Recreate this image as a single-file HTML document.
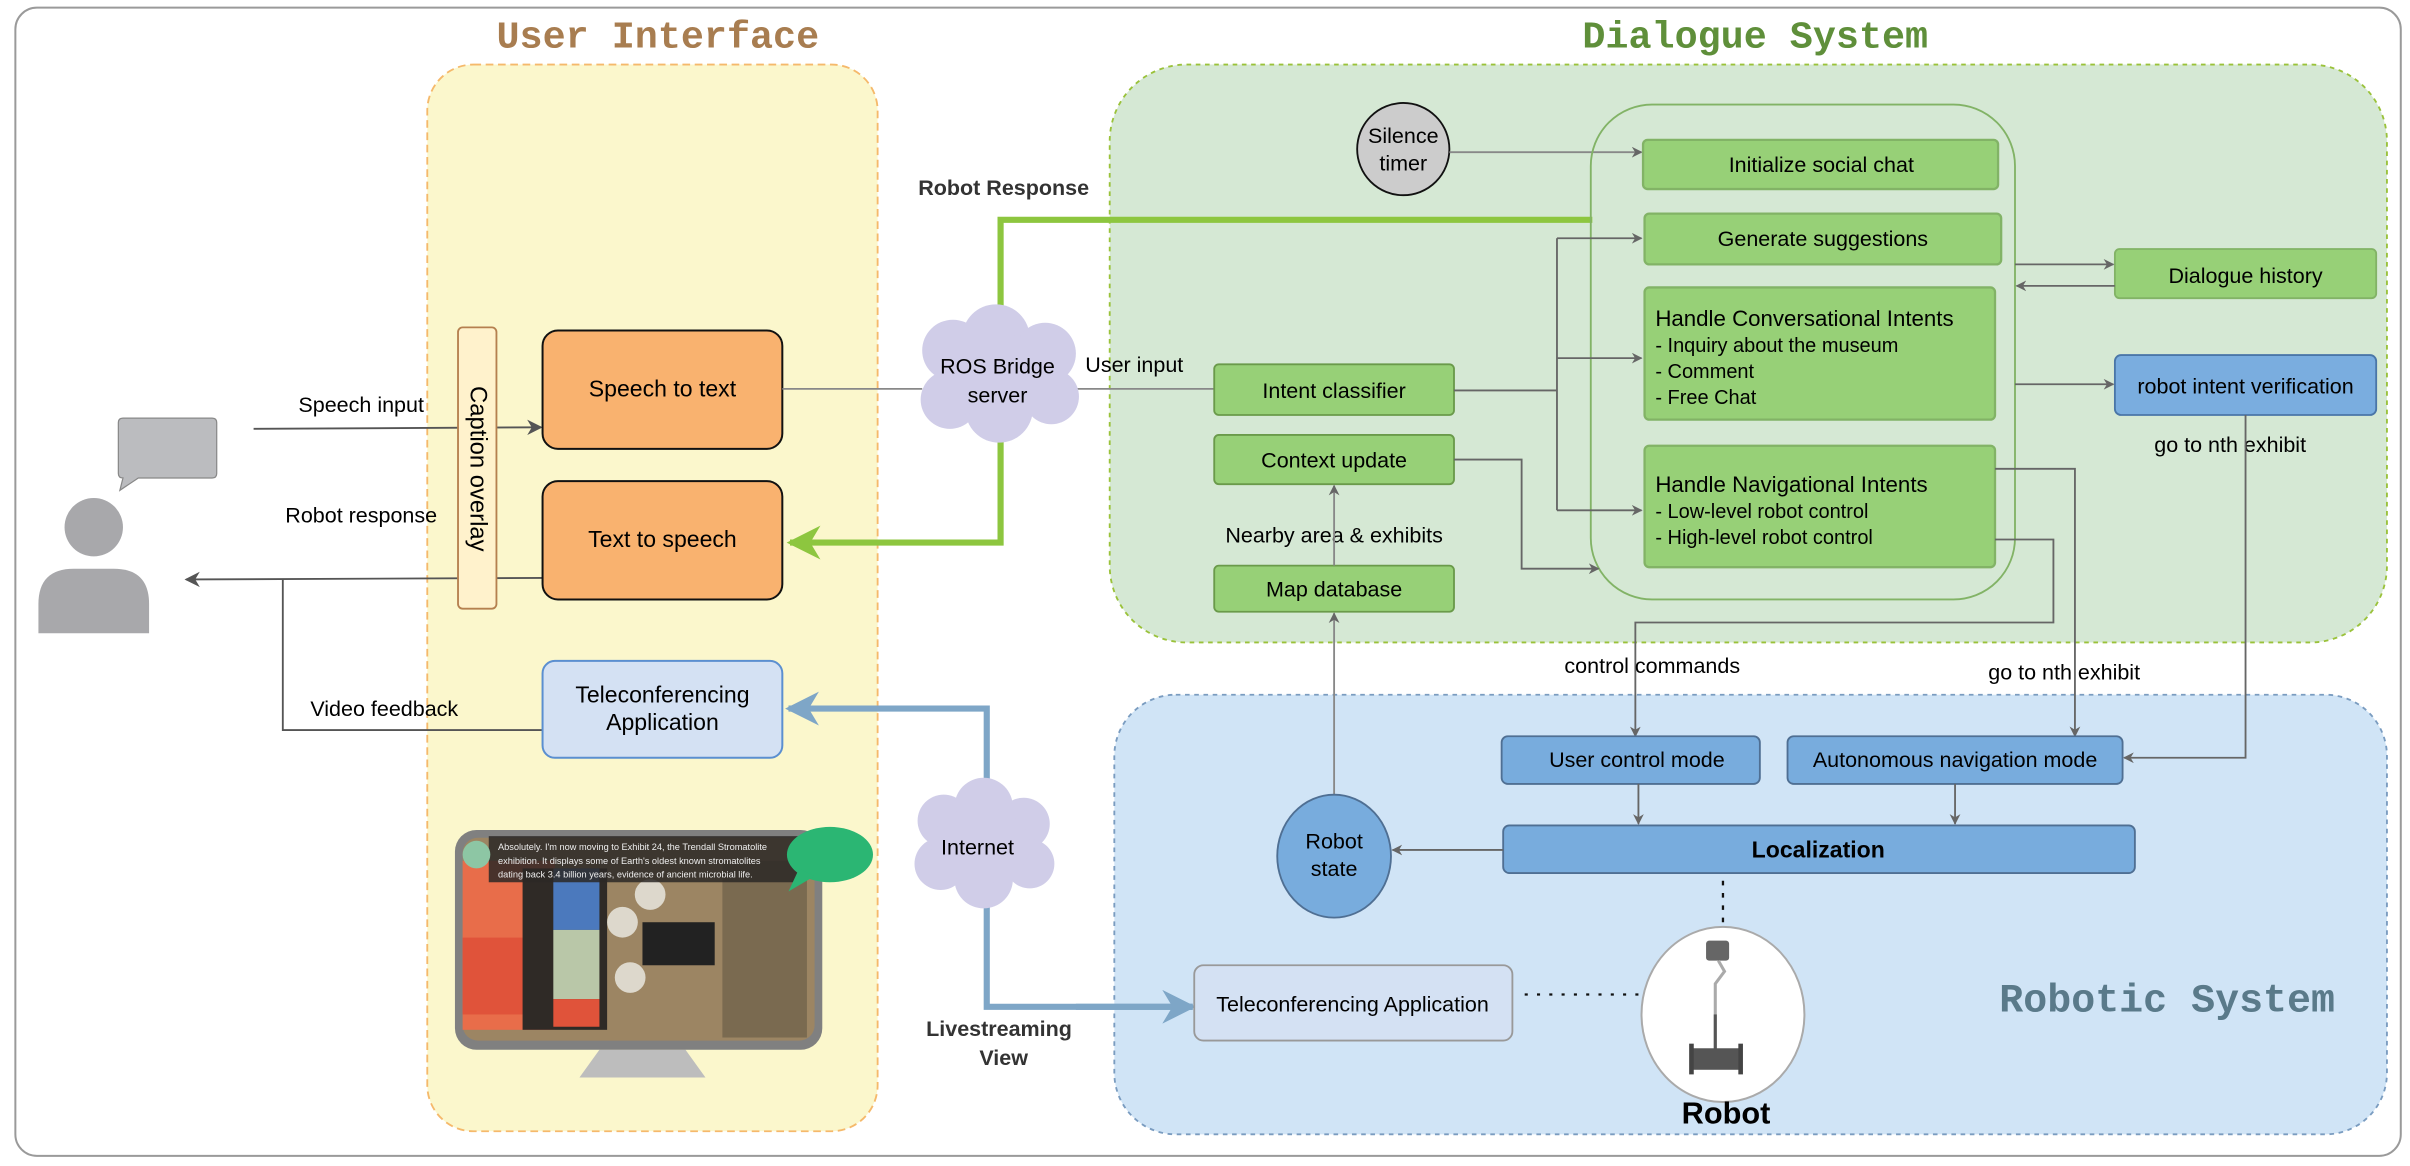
<!DOCTYPE html>
<html><head><meta charset="utf-8"><style>
html,body{margin:0;padding:0;background:#fff;}
svg{display:block;}
text{font-family:"Liberation Sans",Arial,sans-serif;}
.m{font-family:"Liberation Mono",monospace;font-weight:bold;}
</style></head><body>
<svg width="2410" height="1166" viewBox="0 0 1568 758.6" preserveAspectRatio="none" xmlns="http://www.w3.org/2000/svg">
<defs>
<marker id="ag" viewBox="0 0 10 10" refX="9" refY="5" markerWidth="7" markerHeight="7" orient="auto" markerUnits="userSpaceOnUse"><path d="M0,0 L10,5 L0,10 L3,5z" fill="#666"/></marker>
<marker id="ad" viewBox="0 0 10 10" refX="9" refY="5" markerWidth="10" markerHeight="10" orient="auto" markerUnits="userSpaceOnUse"><path d="M0,0 L10,5 L0,10 L3,5z" fill="#555"/></marker>
<marker id="agr" viewBox="0 0 10 10" refX="9" refY="5" markerWidth="22" markerHeight="22" orient="auto" markerUnits="userSpaceOnUse"><path d="M0,0 L10,5 L0,10 L3,5z" fill="#8dc63f"/></marker>
<marker id="abl" viewBox="0 0 10 10" refX="9" refY="5" markerWidth="22" markerHeight="22" orient="auto" markerUnits="userSpaceOnUse"><path d="M0,0 L10,5 L0,10 L3,5z" fill="#7ea6c7"/></marker>
</defs>
<rect x="0" y="0" width="1568" height="759" fill="#fff"/>
<rect x="10" y="5" width="1552" height="747" rx="14" fill="#fff" stroke="#9a9a9a" stroke-width="1.3"/>

<rect x="278" y="42" width="293" height="694" rx="30" fill="#fbf7cc" stroke="#f5b96b" stroke-width="1.2" stroke-dasharray="5,3"/>
<rect x="722" y="42" width="831" height="376" rx="50" fill="#d5e8d4" stroke="#9ac23a" stroke-width="1.2" stroke-dasharray="3,3"/>
<rect x="725" y="452" width="828" height="286" rx="40" fill="#d0e4f6" stroke="#7a9cc0" stroke-width="1.2" stroke-dasharray="3,3"/>
<text x="428" y="31" class="m" font-size="25" fill="#a87d50" text-anchor="middle">User Interface</text>
<text x="1142" y="31" class="m" font-size="25" fill="#5f8f3a" text-anchor="middle">Dialogue System</text>
<text x="1410" y="658" class="m" font-size="26" fill="#5a7a8a" text-anchor="middle">Robotic System</text>

<circle cx="61" cy="343" r="19" fill="#a8a8ab"/>
<path d="M25,412 L25,393 Q25,370 48,370 L74,370 Q97,370 97,393 L97,412z" fill="#a8a8ab"/>
<path d="M80,272 L138,272 Q141,272 141,275 L141,308 Q141,311 138,311 L90,311 L78,319 L80,311 Q77,311 77,308 L77,275 Q77,272 80,272z" fill="#bbbcbf" stroke="#888" stroke-width="0.8"/>

<line x1="165" y1="279" x2="352" y2="278" stroke="#555" stroke-width="1.2" marker-end="url(#ad)"/>
<text x="235" y="268" font-size="14" text-anchor="middle">Speech input</text>
<line x1="353" y1="376" x2="121" y2="377" stroke="#555" stroke-width="1.2" marker-end="url(#ad)"/>
<text x="235" y="340" font-size="14" text-anchor="middle">Robot response</text>
<polyline points="353,475 184,475 184,377" fill="none" stroke="#555" stroke-width="1.2"/>
<text x="250" y="466" font-size="14" text-anchor="middle">Video feedback</text>

<rect x="298" y="213" width="25" height="183" rx="3" fill="#fff2cc" stroke="#b5804f" stroke-width="1.2"/>
<text transform="translate(306,305) rotate(90)" font-size="15.5" text-anchor="middle">Caption overlay</text>

<rect x="353" y="215" width="156" height="77" rx="10" fill="#f9b26f" stroke="#111" stroke-width="1.3"/>
<text x="431" y="258" font-size="15" text-anchor="middle">Speech to text</text>
<rect x="353" y="313" width="156" height="77" rx="10" fill="#f9b26f" stroke="#111" stroke-width="1.3"/>
<text x="431" y="356" font-size="15" text-anchor="middle">Text to speech</text>
<rect x="353" y="430" width="156" height="63" rx="8" fill="#d4e1f3" stroke="#5b8fd0" stroke-width="1.3"/>
<text x="431" y="457" font-size="15" text-anchor="middle">Teleconferencing</text>
<text x="431" y="475" font-size="15" text-anchor="middle">Application</text>

<path d="M390,683 L446,683 L459,701 L377,701z" fill="#bdbdbd"/>
<rect x="296" y="540" width="239" height="143" rx="14" fill="#808080"/>
<rect x="301" y="545" width="229" height="132" rx="10" fill="#9c8563"/>
<rect x="301" y="560" width="60" height="110" fill="#e86d4a"/>
<rect x="301" y="610" width="60" height="50" fill="#e0533a"/>
<rect x="340" y="565" width="55" height="105" fill="#2f2a26"/>
<rect x="360" y="565" width="30" height="40" fill="#4b79bd"/>
<rect x="360" y="605" width="30" height="45" fill="#b9c7a8"/>
<rect x="360" y="650" width="30" height="18" fill="#e0533a"/>
<rect x="418" y="600" width="47" height="28" fill="#222"/>
<rect x="470" y="560" width="55" height="115" fill="#7a6a50"/>
<circle cx="405" cy="600" r="10" fill="#ddd8cc"/><circle cx="423" cy="582" r="10" fill="#ddd8cc"/><circle cx="410" cy="636" r="10" fill="#ddd8cc"/>
<rect x="318" y="544" width="205" height="30" fill="#2b2826" opacity="0.85"/>
<circle cx="310" cy="556" r="9" fill="#8dc6a4"/>
<text x="324" y="553" font-size="6" fill="#eee">Absolutely. I'm now moving to Exhibit 24, the Trendall Stromatolite</text>
<text x="324" y="562" font-size="6" fill="#eee">exhibition. It displays some of Earth's oldest known stromatolites</text>
<text x="324" y="571" font-size="6" fill="#eee">dating back 3.4 billion years, evidence of ancient microbial life.</text>
<ellipse cx="540" cy="556" rx="28" ry="18" fill="#2bb673"/>
<path d="M520,565 L513,580 L530,570z" fill="#2bb673"/>

<polyline points="1036,143 651,143 651,353 514,353" fill="none" stroke="#8dc63f" stroke-width="4" marker-end="url(#agr)"/>
<text x="653" y="127" font-size="14" font-weight="bold" fill="#333" text-anchor="middle">Robot Response</text>
<polyline points="776,655 642,655 642,461 513,461" fill="none" stroke="#7ea6c7" stroke-width="4" marker-end="url(#abl)" />
<line x1="700" y1="655" x2="776" y2="655" stroke="#7ea6c7" stroke-width="4" marker-end="url(#abl)"/>
<text x="650" y="674" font-size="14" font-weight="bold" fill="#333" text-anchor="middle">Livestreaming</text>
<text x="653" y="693" font-size="14" font-weight="bold" fill="#333" text-anchor="middle">View</text>

<line x1="509" y1="253" x2="600" y2="253" stroke="#888" stroke-width="1.2"/>
<line x1="700" y1="253" x2="790" y2="253" stroke="#888" stroke-width="1.2"/>
<text x="738" y="242" font-size="14" text-anchor="middle">User input</text>

<g fill="#d0cde8">
<circle cx="620" cy="228" r="20"/><circle cx="648" cy="220" r="22"/><circle cx="680" cy="230" r="20"/>
<circle cx="618" cy="260" r="19"/><circle cx="650" cy="266" r="22"/><circle cx="684" cy="258" r="18"/><ellipse cx="650" cy="245" rx="38" ry="28"/>
</g>
<text x="649" y="243" font-size="14" text-anchor="middle">ROS Bridge</text>
<text x="649" y="262" font-size="14" text-anchor="middle">server</text>
<g fill="#d0cde8">
<circle cx="614" cy="534" r="17"/><circle cx="640" cy="525" r="19"/><circle cx="666" cy="536" r="17"/>
<circle cx="612" cy="562" r="17"/><circle cx="640" cy="572" r="19"/><circle cx="670" cy="562" r="16"/><ellipse cx="638" cy="550" rx="32" ry="25"/>
</g>
<text x="636" y="556" font-size="14" text-anchor="middle">Internet</text>

<g fill="#97d077" stroke="#6a9a4a" stroke-width="1.2">
<rect x="790" y="237" width="156" height="33" rx="3"/>
<rect x="790" y="283" width="156" height="32" rx="3"/>
<rect x="790" y="368" width="156" height="30" rx="3"/>
</g>
<text x="868" y="259" font-size="14" text-anchor="middle">Intent classifier</text>
<text x="868" y="304" font-size="14" text-anchor="middle">Context update</text>
<text x="868" y="388" font-size="14" text-anchor="middle">Map database</text>
<text x="868" y="353" font-size="14" text-anchor="middle">Nearby area &amp; exhibits</text>
<line x1="868" y1="368" x2="868" y2="316" stroke="#888" stroke-width="1.2" marker-end="url(#ag)"/>
<line x1="868" y1="520" x2="868" y2="399" stroke="#888" stroke-width="1.2" marker-end="url(#ag)"/>

<circle cx="913" cy="97" r="30" fill="#cccccc" stroke="#111" stroke-width="1.2"/>
<text x="913" y="93" font-size="14" text-anchor="middle">Silence</text>
<text x="913" y="111" font-size="14" text-anchor="middle">timer</text>
<line x1="943" y1="99" x2="1068" y2="99" stroke="#888" stroke-width="1.2" marker-end="url(#ag)"/>

<rect x="1035" y="68" width="276" height="322" rx="40" fill="none" stroke="#82b366" stroke-width="1.2"/>
<g fill="#97d077" stroke="#82b366" stroke-width="1.5">
<rect x="1069" y="91" width="231" height="32" rx="3"/>
<rect x="1070" y="139" width="232" height="33" rx="3"/>
<rect x="1070" y="187" width="228" height="86" rx="3"/>
<rect x="1070" y="290" width="228" height="79" rx="3"/>
</g>
<text x="1185" y="112" font-size="14" text-anchor="middle">Initialize social chat</text>
<text x="1186" y="160" font-size="14" text-anchor="middle">Generate suggestions</text>
<text x="1077" y="212" font-size="14.5">Handle Conversational Intents</text>
<text x="1077" y="229" font-size="13">- Inquiry about the museum</text>
<text x="1077" y="246" font-size="13">- Comment</text>
<text x="1077" y="263" font-size="13">- Free Chat</text>
<text x="1077" y="320" font-size="14.5">Handle Navigational Intents</text>
<text x="1077" y="337" font-size="13">- Low-level robot control</text>
<text x="1077" y="354" font-size="13">- High-level robot control</text>

<polyline points="946,254 1013,254" fill="none" stroke="#666" stroke-width="1.2"/>
<line x1="1013" y1="155" x2="1013" y2="332" stroke="#666" stroke-width="1.2"/>
<line x1="1013" y1="155" x2="1068" y2="155" stroke="#666" stroke-width="1.2" marker-end="url(#ag)"/>
<line x1="1013" y1="233" x2="1068" y2="233" stroke="#666" stroke-width="1.2" marker-end="url(#ag)"/>
<line x1="1013" y1="332" x2="1068" y2="332" stroke="#666" stroke-width="1.2" marker-end="url(#ag)"/>
<polyline points="946,299 990,299 990,370 1040,370" fill="none" stroke="#666" stroke-width="1.2" marker-end="url(#ag)"/>

<rect x="1376" y="162" width="170" height="32" rx="3" fill="#97d077" stroke="#82b366" stroke-width="1.2"/>
<text x="1461" y="184" font-size="14" text-anchor="middle">Dialogue history</text>
<line x1="1311" y1="172" x2="1375" y2="172" stroke="#666" stroke-width="1.2" marker-end="url(#ag)"/>
<line x1="1376" y1="186" x2="1312" y2="186" stroke="#666" stroke-width="1.2" marker-end="url(#ag)"/>
<rect x="1376" y="231" width="170" height="39" rx="4" fill="#7aaddf" stroke="#4a76a8" stroke-width="1.2"/>
<text x="1461" y="256" font-size="14" text-anchor="middle">robot intent verification</text>
<line x1="1311" y1="250" x2="1375" y2="250" stroke="#666" stroke-width="1.2" marker-end="url(#ag)"/>
<text x="1451" y="294" font-size="14" text-anchor="middle">go to nth exhibit</text>
<polyline points="1461,270 1461,493 1382,493" fill="none" stroke="#666" stroke-width="1.2" marker-end="url(#ag)"/>

<polyline points="1298,305 1350,305 1350,479" fill="none" stroke="#666" stroke-width="1.2" marker-end="url(#ag)"/>
<text x="1343" y="442" font-size="14" text-anchor="middle">go to nth exhibit</text>
<polyline points="1298,351 1336,351 1336,405 1064,405 1064,479" fill="none" stroke="#666" stroke-width="1.2" marker-end="url(#ag)"/>
<text x="1075" y="438" font-size="14" text-anchor="middle">control commands</text>

<g fill="#78acdd" stroke="#4f6f93" stroke-width="1.2">
<rect x="977" y="479" width="168" height="31" rx="4"/>
<rect x="1163" y="479" width="218" height="31" rx="4"/>
<rect x="978" y="537" width="411" height="31" rx="4"/>
</g>
<text x="1065" y="499" font-size="14" text-anchor="middle">User control mode</text>
<text x="1272" y="499" font-size="14" text-anchor="middle">Autonomous navigation mode</text>
<text x="1183" y="558" font-size="15" font-weight="bold" text-anchor="middle">Localization</text>
<line x1="1066" y1="510" x2="1066" y2="536" stroke="#666" stroke-width="1.2" marker-end="url(#ag)"/>
<line x1="1272" y1="510" x2="1272" y2="536" stroke="#666" stroke-width="1.2" marker-end="url(#ag)"/>
<ellipse cx="868" cy="557" rx="37" ry="40" fill="#78acdd" stroke="#4f6f93" stroke-width="1.2"/>
<text x="868" y="552" font-size="14" text-anchor="middle">Robot</text>
<text x="868" y="570" font-size="14" text-anchor="middle">state</text>
<line x1="978" y1="553" x2="906" y2="553" stroke="#666" stroke-width="1.2" marker-end="url(#ag)"/>
<line x1="1121" y1="573" x2="1121" y2="601" stroke="#111" stroke-width="1.5" stroke-dasharray="3,5"/>
<ellipse cx="1121" cy="660" rx="53" ry="57" fill="#fff" stroke="#aaa" stroke-width="1.3"/>
<rect x="1110" y="612" width="15" height="13" rx="2" fill="#666"/>
<polyline points="1118,625 1122,632 1116,640 1116,690" fill="none" stroke="#aaa" stroke-width="2"/>
<line x1="1116" y1="660" x2="1116" y2="690" stroke="#555" stroke-width="2"/>
<rect x="1100" y="682" width="33" height="14" fill="#555"/>
<rect x="1099" y="679" width="3" height="20" fill="#444"/><rect x="1131" y="679" width="3" height="20" fill="#444"/>
<text x="1123" y="731" font-size="20" font-weight="bold" text-anchor="middle">Robot</text>
<rect x="777" y="628" width="207" height="49" rx="6" fill="#d4e1f3" stroke="#999" stroke-width="1.2"/>
<text x="880" y="658" font-size="14" text-anchor="middle">Teleconferencing Application</text>
<line x1="992" y1="647" x2="1068" y2="647" stroke="#111" stroke-width="1.5" stroke-dasharray="2,6"/>
</svg>
</body></html>
